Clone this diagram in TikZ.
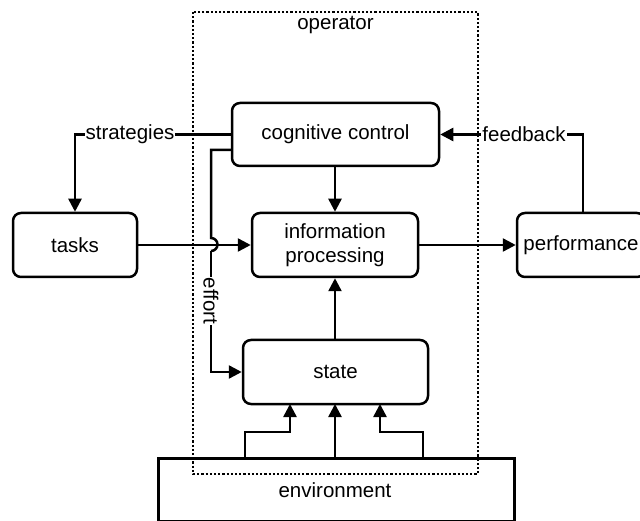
\documentclass[tikz,border=0pt]{standalone}
\usepackage{fontspec}
\setmainfont{Liberation Sans}
\usetikzlibrary{arrows.meta}
\begin{document}
\begin{tikzpicture}[x=1pt,y=-1pt,
  txt/.style={font=\fontsize{20.5}{24}\selectfont},
  box/.style={draw, line width=2.5pt, rounded corners=8pt, txt, align=center, inner sep=0pt},
  conn/.style={line width=2.5pt, -{Triangle[length=13pt,width=13pt]}},
  plain/.style={line width=2.5pt},
  lbl/.style={fill=white, inner sep=1pt, txt}
]
\useasboundingbox (0,0) rectangle (640,521);
\clip (0,0) rectangle (640,521);
\fill[white] (0,0) rectangle (640,521);

% operator (dotted)
\draw[line width=2.4pt, dash pattern=on 2.2pt off 2pt] (193,12) rectangle (478,474);
\node[txt] (oplbl) at (335.5,25) {operator};

% environment
\node[draw, line width=2.5pt, minimum width=356pt, minimum height=63pt, inner sep=0pt, anchor=north west, txt] (env) at (157,457) {};
\node[txt] (envlbl) at (335,490) {environment};

% nodes
\node[box, minimum width=207pt, minimum height=63pt] (cog) at (335.5,134.5) {cognitive control};
\node[box, minimum width=124pt, minimum height=64pt] (tasks) at (75,245) {tasks};
\node[box, minimum width=166pt, minimum height=64pt] (info) at (335,245) {information\\processing};
\node[box, minimum width=185pt, minimum height=64pt] (state) at (335.5,372) {state};
\node[box, minimum width=128pt, minimum height=64pt] (perf) at (581,245) {performance};

% cognitive control -> information processing
\draw[conn] (cog.south -| info) -- (info.north);
% state -> information processing
\draw[conn] (state.north -| info) -- (info.south);
% information processing -> performance
\draw[conn] (info.east) -- (perf.west);
% tasks -> information processing
\draw[conn] (tasks.east) -- (info.west);

% strategies
\draw[conn] (cog.west) -| (tasks.north);
\node[lbl] (strat) at (130,134) {strategies};

% feedback
\draw[conn] (perf.north -| 583,0) |- (cog.east);
\node[lbl] (fb) at (524,134) {feedback};

% effort with line jump
\coordinate (e0) at (232,150);
\coordinate (e1) at (211,150);
\coordinate (j1) at (211,238);
\coordinate (j2) at (211,251);
\coordinate (e2) at (211,372);
\draw[plain] (e0) -- (e1) -- (j1) arc[start angle=90, end angle=-90, radius=6.5pt];
\draw[conn] (j2) -- (e2) -- (state.west);
\node[lbl, rotate=-90, inner sep=0.5pt] (eff) at (211,301) {effort};

% environment -> state
\draw[conn] (245,457) |- (290,432) -- (290,404);
\draw[conn] (335,457) -- (335,404);
\draw[conn] (423,457) |- (380,432) -- (380,404);
\end{tikzpicture}
\end{document}
